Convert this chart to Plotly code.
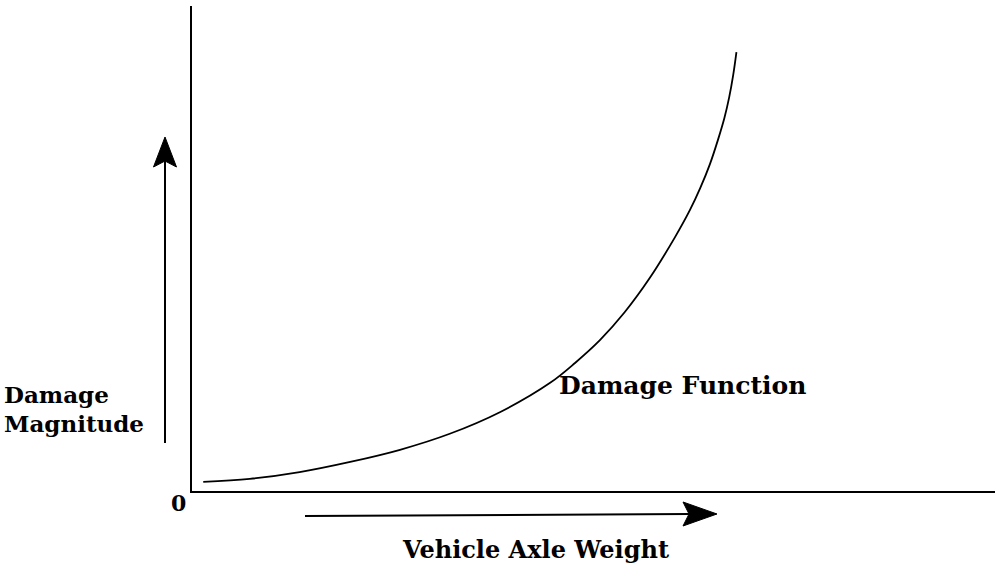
import plotly.graph_objects as go

# Damage function curve (axle weight vs damage magnitude, arbitrary units 0-100)
weight = [1.4, 7.2, 13.4, 19.7, 25.9, 32.1, 38.4, 44.6, 47.7, 50.8, 53.9, 57.0, 60.1, 62.0, 63.3, 64.5, 65.5, 66.3, 66.9, 67.4, 67.8]
damage = [1.9, 2.5, 3.9, 6.0, 8.5, 11.8, 16.3, 22.3, 26.4, 31.1, 36.9, 43.9, 52.2, 57.9, 62.5, 67.4, 72.4, 76.9, 81.2, 85.8, 90.5]

W, H = 995, 564
L, T, B = 192, 6, 73
PW, PH = W - L, H - T - B

def px(x):
    return (x - L) / PW

def py(y):
    return (H - B - y) / PH

FONT = "DejaVu Serif"

fig = go.Figure()
fig.add_trace(go.Scatter(x=weight, y=damage, mode="lines",
                         line=dict(color="black", width=1.8, shape="spline", smoothing=1.0),
                         cliponaxis=False, hoverinfo="skip", showlegend=False))

shapes = []
shapes.append(dict(type="line", xref="paper", yref="paper", x0=px(165), y0=py(443), x1=px(165), y1=py(160),
                   line=dict(color="black", width=2)))
shapes.append(dict(type="line", xref="paper", yref="paper", x0=px(305), y0=py(516), x1=px(690), y1=py(514),
                   line=dict(color="black", width=2)))

def path(pts):
    return "M " + " L ".join(f"{px(a):.5f},{py(b):.5f}" for a, b in pts) + " Z"

shapes.append(dict(type="path", xref="paper", yref="paper",
                   path=path([(165, 137), (176.5, 167), (165, 161), (153.5, 167)]),
                   fillcolor="black", line=dict(color="black", width=1)))
shapes.append(dict(type="path", xref="paper", yref="paper",
                   path=path([(717, 514), (683, 502), (689, 514), (683, 526)]),
                   fillcolor="black", line=dict(color="black", width=1)))

def txt(s, x, y, xa="left", size=24):
    return dict(text="<b>" + s + "</b>", xref="paper", yref="paper", x=px(x), y=py(y),
                xanchor=xa, yanchor="middle", showarrow=False, align="left",
                font=dict(family=FONT, size=size, color="black"))

annotations = [
    txt("Damage", 2, 394, size=23),
    txt("Magnitude", 2, 423, size=23),
    txt("Damage Function", 557, 385, size=25),
    txt("0", 178, 503, xa="center", size=22),
    txt("Vehicle Axle Weight", 535, 549, xa="center", size=24),
]

fig.update_layout(
    width=W, height=H,
    margin=dict(l=L, r=0, t=T, b=B, pad=0),
    paper_bgcolor="white", plot_bgcolor="white",
    xaxis=dict(range=[0, 100], showgrid=False, zeroline=False, showticklabels=False, ticks="",
               showline=True, linecolor="black", linewidth=2, fixedrange=True),
    yaxis=dict(range=[0, 100], showgrid=False, zeroline=False, showticklabels=False, ticks="",
               showline=True, linecolor="black", linewidth=2, fixedrange=True),
    shapes=shapes, annotations=annotations, showlegend=False,
)

fig.write_html("out.html", config={"displayModeBar": False},
               post_script="document.body.style.margin='0';document.body.style.overflow='hidden';")
